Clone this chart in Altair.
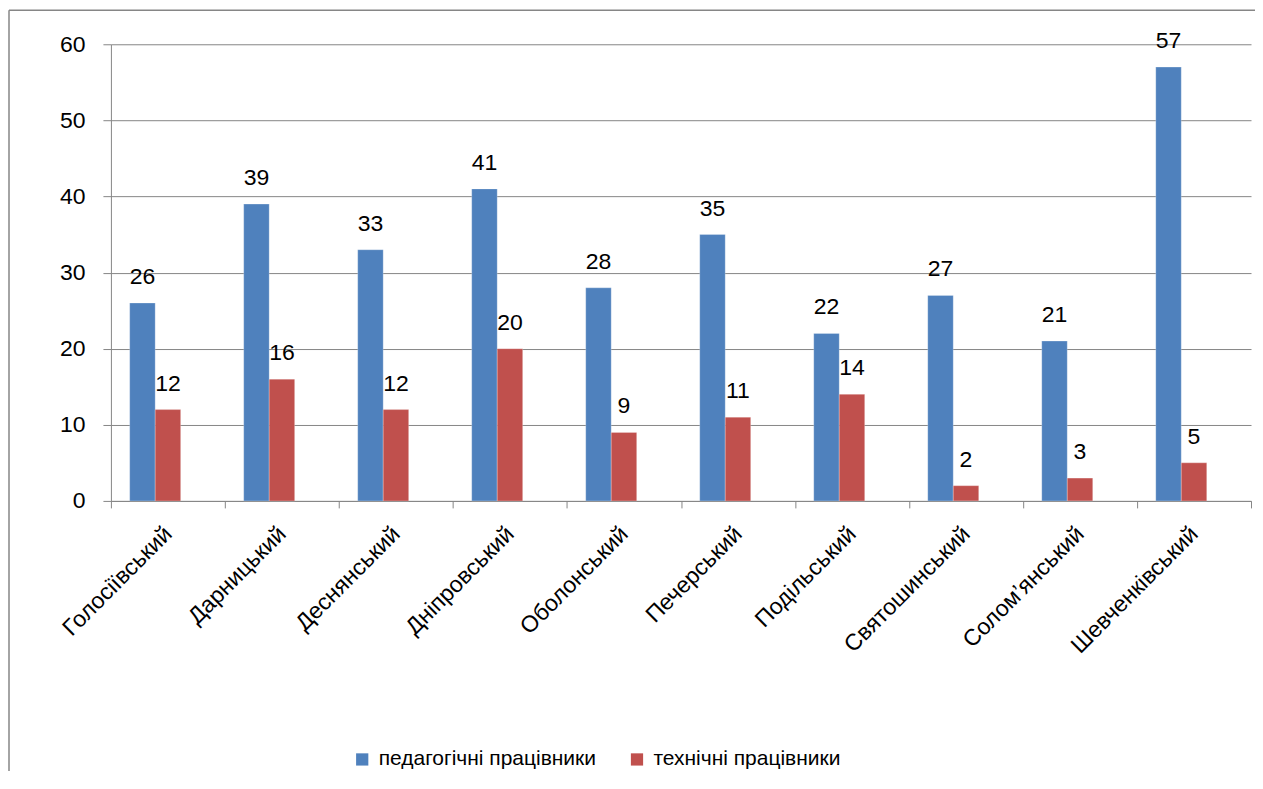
import altair as alt
import pandas as pd

districts = ["Голосіївський", "Дарницький", "Деснянський", "Дніпровський", "Оболонський",
             "Печерський", "Подільський", "Святошинський", "Солом’янський", "Шевченківський"]
series_names = ["педагогічні працівники", "технічні працівники"]
pedagogical = [26, 39, 33, 41, 28, 35, 22, 27, 21, 57]
technical = [12, 16, 12, 20, 9, 11, 14, 2, 3, 5]
colors = ["#4F81BD", "#C0504D"]

rows = []
for i, d in enumerate(districts):
    rows.append({"district": d, "series": series_names[0], "value": pedagogical[i]})
    rows.append({"district": d, "series": series_names[1], "value": technical[i]})
df = pd.DataFrame(rows)

FONT = "Liberation Sans"
W, H = 1141, 457
BW = 25.5

x_enc = alt.X("district:N", sort=districts, title=None,
              scale=alt.Scale(paddingInner=0, paddingOuter=0),
              axis=alt.Axis(labelAngle=-45, labelAlign="right", labelBaseline="middle",
                            labelFontSize=23, labelFont=FONT, labelColor="#000000",
                            labelPadding=22, tickBand="extent", tickSize=7, labelLimit=0,
                            tickColor="#868686", domainColor="#868686", grid=False))
y_enc = alt.Y("value:Q", title=None,
              scale=alt.Scale(domain=[0, 60], nice=False),
              axis=alt.Axis(values=[0, 10, 20, 30, 40, 50, 60], labelFontSize=23, labelFont=FONT,
                            labelColor="#000000", tickSize=8, labelPadding=18,
                            tickColor="#868686", domainColor="#868686",
                            gridColor="#868686", gridWidth=1, domainWidth=1))
color_enc = alt.Color("series:N", sort=series_names,
                      scale=alt.Scale(domain=series_names, range=colors),
                      legend=alt.Legend(title=None, orient="none", direction="horizontal",
                                        legendX=241, legendY=705, labelLimit=0,
                                        symbolType="square", symbolSize=150, symbolStrokeWidth=0,
                                        labelFontSize=21, labelFont=FONT, labelColor="#000000",
                                        columnPadding=30, labelOffset=6))

base = alt.Chart(df)
layers = []
for name, off in [(series_names[0], -BW), (series_names[1], 0)]:
    sub = base.transform_filter(alt.datum.series == name)
    layers.append(sub.mark_bar(width=BW, xOffset=off, stroke="#ffffff", strokeOpacity=0.5,
                               strokeWidth=0.5).encode(x=x_enc, y=y_enc, color=color_enc))
    layers.append(sub.mark_text(dx=off, dy=-26, fontSize=23, font=FONT, color="#000000",
                                baseline="middle").encode(
        x=alt.X("district:N", sort=districts), y="value:Q", text="value:Q"))

one = pd.DataFrame({"k": [0]})
border_top = alt.Chart(one).mark_rule(stroke="#868686", strokeWidth=1.5).encode(
    x=alt.value(-102), x2=alt.value(1250), y=alt.value(-34))
border_left = alt.Chart(one).mark_rule(stroke="#868686", strokeWidth=1.5).encode(
    x=alt.value(-102), y=alt.value(-34), y2=alt.value(800))

chart = alt.layer(border_top, border_left, *layers).properties(
    width=W, height=H,
    padding={"left": 103, "top": 36, "right": 4, "bottom": 270},
    autosize=alt.AutoSizeParams(type="none"),
).configure_view(stroke=None).configure_axis(labelFont=FONT)

chart.save("out.html", embed_options={"renderer": "svg", "actions": False})
